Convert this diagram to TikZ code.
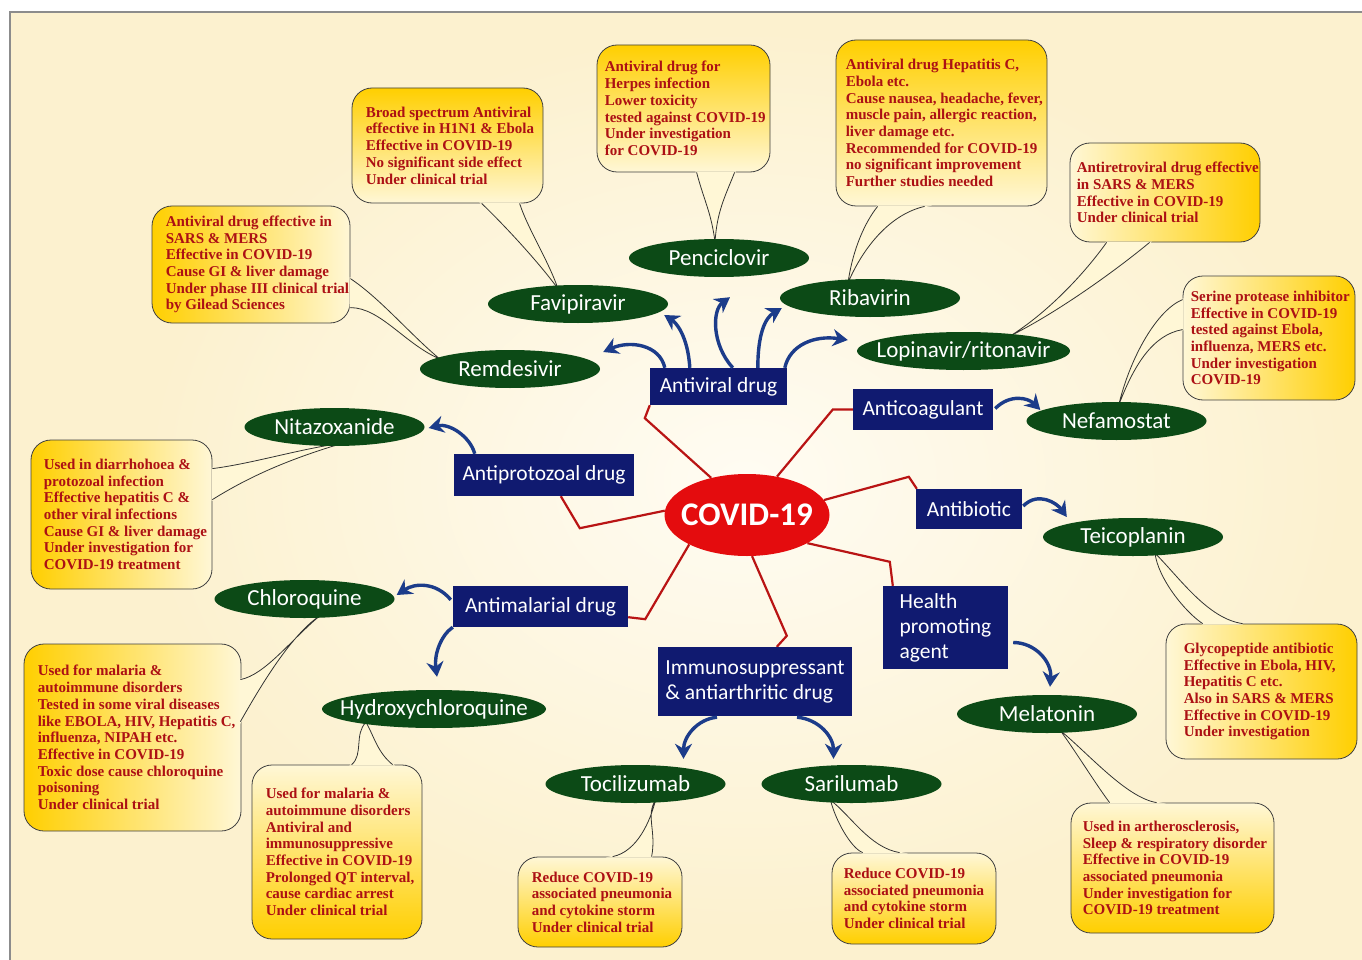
\documentclass[tikz,border=0pt]{standalone}
\usepackage{fontspec}
\newfontfamily\catfont{Carlito}
\newfontfamily\notefont{Liberation Serif}
\usetikzlibrary{shapes}
\usetikzlibrary{calc}
\usetikzlibrary{arrows.meta}
\definecolor{druggreen}{RGB}{12,74,22}
\definecolor{catblue}{RGB}{16,26,112}
\definecolor{virusred}{RGB}{228,12,14}
\definecolor{linkred}{RGB}{185,20,20}
\definecolor{arrowblue}{RGB}{28,60,138}
\definecolor{noteyellow}{RGB}{255,207,0}
\definecolor{notelight}{RGB}{255,247,214}
\definecolor{notered}{RGB}{172,16,20}
\definecolor{bgcream}{RGB}{252,241,207}
\definecolor{bglight}{RGB}{255,252,243}
\definecolor{framegray}{RGB}{140,140,140}
\pgfdeclarelayer{back}
\pgfdeclarelayer{notes}
\pgfsetlayers{back,notes,main}
\tikzset{
    virusoval/.style = {ellipse, fill=virusred, text=white, inner xsep=-15pt, inner ysep=0pt,
        minimum width=165pt, minimum height=82pt, font=\catfont\bfseries\fontsize{33pt}{36pt}\selectfont},
    catbox/.style = {rectangle, fill=catblue, text=white, align=left, inner sep=0pt,
        font=\catfont\fontsize{21.5pt}{25pt}\selectfont},
    drugoval/.style = {ellipse, fill=druggreen, text=white, inner xsep=-20pt, inner ysep=-2pt,
        minimum width=180pt, minimum height=38pt, font=\catfont\fontsize{23pt}{25pt}\selectfont},
    notebox/.style 2 args = {rectangle, rounded corners=20pt, draw=black!75, line width=0.8pt,
        minimum width=#1, minimum height=#2, inner sep=0pt},
    notetext/.style = {anchor=west, align=left, inner sep=0pt, text=notered,
        font=\notefont\bfseries\fontsize{15pt}{16.7pt}\selectfont},
    shadel/.style = {left color=noteyellow, right color=notelight}, % yellow on the left
    shader/.style = {left color=notelight, right color=noteyellow}, % yellow on the right
    shadet/.style = {top color=noteyellow, bottom color=notelight}, % yellow on top
    shadeb/.style = {top color=notelight, bottom color=noteyellow}, % yellow below
    tailfill/.style = {fill=notelight, draw=notelight, line width=1.8pt},
    tailline/.style = {draw=black!80, line width=0.8pt},
    redlink/.style = {draw=linkred, line width=2.2pt},
    bluearrow/.style = {-{Stealth[length=15pt,width=17pt]}, draw=arrowblue, line width=3.4pt}
}
% speech bubble tail: filled, then its two sides drawn
\newcommand{\calltail}[1]{\filldraw[tailfill] #1 -- cycle; \draw[tailline] #1;}

\begin{document}
\begin{tikzpicture}[x=1pt, y=-1pt]
\useasboundingbox (0,0) rectangle (1362,960);
%
\node[virusoval] at (747,515) (covid) {COVID-19};
%
\node[catbox, minimum width=137pt, minimum height=37pt] at (718.5,386.5) (av) {Antiviral drug};
\node[catbox, minimum width=140pt, minimum height=41pt] at (923,409.5) (acoag) {Anticoagulant};
\node[catbox, minimum width=180pt, minimum height=42pt] at (544,475) (aprot) {Antiprotozoal drug};
\node[catbox, minimum width=106pt, minimum height=40pt] at (969,509) (abio) {Antibiotic};
\node[catbox, minimum width=175pt, minimum height=41pt] at (540.5,606.5) (amal) {Antimalarial drug};
\node[catbox, minimum width=125pt, minimum height=83pt] at (945.5,627.5) (health) {Health\\promoting\\agent};
\node[catbox, minimum width=194pt, minimum height=69pt] at (755,681.5) (immu) {Immunosuppressant\\\& antiarthritic drug};
%
\node[drugoval] at (719,258) (penc) {Penciclovir};
\node[drugoval] at (578,304) (fav) {Favipiravir};
\node[drugoval] at (870,298) (riba) {Ribavirin};
\node[drugoval] at (510,369) (rem) {Remdesivir};
\node[drugoval, minimum width=213pt] at (963.5,351) (lopi) {Lopinavir/ritonavir};
\node[drugoval] at (334.5,427) (nita) {Nitazoxanide};
\node[drugoval] at (1116.5,421) (nefa) {Nefamostat};
\node[drugoval] at (1133,537) (teico) {Teicoplanin};
\node[drugoval] at (304.5,599) (chlq) {Chloroquine};
\node[drugoval, minimum width=224pt] at (434,709) (hcq) {Hydroxychloroquine};
\node[drugoval] at (1047,714) (mela) {Melatonin};
\node[drugoval] at (635.5,784) (toci) {Tocilizumab};
\node[drugoval] at (851.5,784) (sari) {Sarilumab};

\begin{pgfonlayer}{back}
\fill[white] (0,0) rectangle (1362,960);
\fill[bgcream] (10,12) rectangle (1362,960);
\shade[inner color=bglight, outer color=bgcream] (745,480) ellipse [x radius=600, y radius=450];
\draw[framegray, line width=1.5pt] (10,960) -- (10,12) -- (1362,12);
%
\draw[redlink] (covid.134) -- ($(av.south west)+(-5,13)$) -- (av.south west);
\draw[redlink] (covid.52) -- ($(acoag.west)+(-20,0)$) -- (acoag.west);
\draw[redlink] (covid.177) -- ($(aprot.south west)+(126,32)$) -- ($(aprot.south west)+(107,0)$);
\draw[redlink] (covid.11) -- ($(abio.north west)+(-7,-12)$) -- ($(abio.north west)+(1,0)$);
\draw[redlink] (covid.335) -- ($(health.north west)+(7,-24)$) -- ($(health.north west)+(10,0)$);
\draw[redlink] (covid.277) -- ($(immu.north west)+(129,-11)$) -- ($(immu.north west)+(119,0)$);
\draw[redlink] (covid.207) -- ($(amal.south east)+(17,-8)$) -- ($(amal.south east)+(0,-10)$);
\end{pgfonlayer}

\begin{pgfonlayer}{notes}
\node[notebox={191pt}{115pt}, shadet, label={[notetext, name=favtext, xshift=14pt]west:{Broad spectrum Antiviral\\effective in H1N1 \& Ebola\\Effective in COVID-19\\No significant side effect\\Under clinical trial}}] at (447.5,145.5) (favnote) {};
\node[notebox={173pt}{127pt}, shadet, label={[notetext, name=penctext, xshift=8pt]west:{Antiviral drug for\\Herpes infection\\Lower toxicity\\tested against COVID-19\\Under investigation\\for COVID-19}}] at (683.5,108.5) (pencnote) {};
\node[notebox={211pt}{166pt}, shadet, label={[notetext, name=ribatext, xshift=10pt]west:{Antiviral drug Hepatitis C,\\Ebola etc.\\Cause nausea, headache, fever,\\muscle pain, allergic reaction,\\liver damage etc.\\Recommended for COVID-19\\no significant improvement\\Further studies needed}}] at (941.5,123) (ribanote) {};
\node[notebox={190pt}{99pt}, shader, label={[notetext, name=lopitext, xshift=7pt]west:{Antiretroviral drug effective\\in SARS \& MERS\\Effective in COVID-19\\Under clinical trial}}] at (1165,192.5) (lopinote) {};
\node[notebox={172pt}{124pt}, shader, label={[notetext, name=nefatext, xshift=8pt]west:{Serine protease inhibitor\\Effective in COVID-19\\tested against Ebola,\\influenza, MERS etc.\\Under investigation\\COVID-19}}] at (1269,338) (nefanote) {};
\node[notebox={198pt}{117pt}, shadel, label={[notetext, name=remtext, xshift=14pt]west:{Antiviral drug effective in\\SARS \& MERS\\Effective in COVID-19\\Cause GI \& liver damage\\Under phase III clinical trial\\by Gilead Sciences}}] at (251,264.5) (remnote) {};
\node[notebox={181pt}{149pt}, shadel, label={[notetext, name=nitatext, xshift=13pt]west:{Used in diarrhohoea \&\\protozoal infection\\Effective hepatitis C \&\\other viral infections\\Cause GI \& liver damage\\Under investigation for\\COVID-19 treatment}}] at (121.5,514.5) (nitanote) {};
\node[notebox={217pt}{187pt}, shadel, label={[notetext, name=chlqtext, xshift=14pt]west:{Used for malaria \&\\autoimmune disorders\\Tested in some viral diseases\\like EBOLA, HIV, Hepatitis C,\\influenza, NIPAH etc.\\Effective in COVID-19\\Toxic dose cause chloroquine\\poisoning\\Under clinical trial}}] at (132.5,737.5) (chlqnote) {};
\node[notebox={170pt}{174pt}, shadeb, label={[notetext, name=hcqtext, xshift=14pt]west:{Used for malaria \&\\autoimmune disorders\\Antiviral and\\immunosuppressive\\Effective in COVID-19\\Prolonged QT interval,\\cause cardiac arrest\\Under clinical trial}}] at (337,852) (hcqnote) {};
\node[notebox={164pt}{90pt}, shadeb, label={[notetext, name=tocitext, xshift=14pt]west:{Reduce COVID-19\\associated pneumonia\\and cytokine storm\\Under clinical trial}}] at (600,902) (tocinote) {};
\node[notebox={164pt}{91pt}, shadeb, label={[notetext, name=saritext, xshift=12pt]west:{Reduce COVID-19\\associated pneumonia\\and cytokine storm\\Under clinical trial}}] at (914,898.5) (sarinote) {};
\node[notebox={203pt}{130pt}, shadeb, label={[notetext, name=melatext, xshift=12pt]west:{Used in artherosclerosis,\\Sleep \& respiratory disorder\\Effective in COVID-19\\associated pneumonia\\Under investigation for\\COVID-19 treatment}}] at (1172.5,868) (melanote) {};
\node[notebox={191pt}{135pt}, shader, label={[notetext, name=teicotext, xshift=18pt]west:{Glycopeptide antibiotic\\Effective in Ebola, HIV,\\Hepatitis C etc.\\Also in SARS \& MERS\\Effective in COVID-19\\Under investigation}}] at (1261.5,691.5) (teiconote) {};
%
\calltail{($(favnote.south west)+(130,0)$) .. controls +(23,22) and +(-18,-25) .. ($(fav.north)+(-20,4)$) .. controls +(-10,-29) and +(8,25) .. ($(favnote.south west)+(168,0)$)}
\calltail{($(pencnote.south west)+(100,0)$) .. controls +(8,30) and +(-4,-30) .. ($(penc.north)+(-4,3)$) .. controls +(2,-30) and +(-10,25) .. ($(pencnote.south west)+(138,0)$)}
\calltail{($(ribanote.south west)+(42,0)$) .. controls +(-12,15) and +(5,-35) .. ($(riba.north)+(-22,4)$) .. controls +(15,-35) and +(-35,8) .. ($(ribanote.south west)+(89,0)$)}
\calltail{($(lopinote.south west)+(37,0)$) .. controls +(-25,35) and +(35,-22) .. ($(lopi.north)+(47,4)$) .. controls +(50,-25) and +(-30,25) .. ($(lopinote.south west)+(80,0)$)}
\calltail{($(nefanote.north west)+(0,24)$) .. controls +(-25,10) and +(12,-50) .. ($(nefa.north)+(2,4)$) .. controls +(15,-40) and +(-30,5) .. ($(nefanote.north west)+(0,54)$)}
\calltail{($(remnote.north east)+(0,73)$) .. controls +(30,20) and +(-30,-25) .. ($(rem.west)+(20,-10)$) .. controls +(-35,-15) and +(30,0) .. ($(remnote.north east)+(0,102)$)}
\calltail{($(nitanote.north east)+(0,29)$) .. controls +(40,-5) and +(-40,5) .. ($(nita.south)+(8,-3)$) .. controls +(-50,15) and +(40,-25) .. ($(nitanote.north east)+(0,60)$)}
\calltail{($(chlqnote.north east)+(-1,36)$) .. controls +(25,-5) and +(-30,25) .. ($(chlq.south)+(16,-3)$) .. controls +(-30,20) and +(20,-35) .. ($(chlqnote.north east)+(-1,78)$)}
\calltail{($(hcqnote.north west)+(100,0)$) .. controls +(12,-10) and +(-12,12) .. ($(hcq.south)+(-68,-6)$) .. controls +(8,14) and +(-15,-12) .. ($(hcqnote.north west)+(141,0)$)}
\calltail{($(tocinote.north west)+(95,0)$) .. controls +(25,-5) and +(-5,20) .. ($(toci.south)+(20,-3)$) .. controls +(-10,15) and +(5,-25) .. ($(tocinote.north west)+(134,0)$)}
\calltail{($(sarinote.north west)+(31,0)$) .. controls +(-12,-5) and +(5,20) .. ($(sari.south)+(-21,-3)$) .. controls +(20,15) and +(-30,-5) .. ($(sarinote.north west)+(68,0)$)}
\calltail{($(melanote.north west)+(39,0)$) .. controls +(-15,-20) and +(15,20) .. ($(mela.south)+(13,-3)$) .. controls +(30,25) and +(-30,-5) .. ($(melanote.north west)+(86,0)$)}
\calltail{($(teiconote.north west)+(37,0)$) .. controls +(-18,-12) and +(3,25) .. ($(teico.south)+(22,-3)$) .. controls +(25,25) and +(-35,-5) .. ($(teiconote.north west)+(77,0)$)}
\end{pgfonlayer}
%
\draw[bluearrow] ($(av.north west)+(15,0)$) .. controls +(-5,-23) and +(27,-12) .. ($(rem.east)+(3,-17)$);
\draw[bluearrow] ($(av.north west)+(40,0)$) .. controls +(-2,-33) and +(11,7) .. ($(fav.east)+(-4,11)$);
\draw[bluearrow] ($(av.north west)+(83,0)$) .. controls +(-21,-23) and +(-18,13) .. ($(penc.south)+(11,20)$);
\draw[bluearrow] ($(av.north west)+(108,0)$) .. controls +(0,-33) and +(-17,10) .. ($(riba.west)+(2,10)$);
\draw[bluearrow] ($(av.north west)+(135,0)$) .. controls +(5,-23) and +(-33,-5) .. ($(lopi.west)+(-9,-11)$);
\draw[bluearrow] ($(aprot.north west)+(21,0)$) .. controls +(-5,-18) and +(20,-5) .. ($(nita.east)+(4,1)$);
\draw[bluearrow] ($(amal.north west)+(-2,14)$) .. controls +(-15,-18) and +(18,-12) .. ($(chlq.east)+(2,-4)$);
\draw[bluearrow] (amal.south west) .. controls +(-12,8) and +(-3,-22) .. ($(hcq.north)+(3,-13)$);
\draw[bluearrow] ($(acoag.east)+(2,-1)$) .. controls +(15,-15) and +(-12,-12) .. ($(nefa.west)+(14,-11)$);
\draw[bluearrow] ($(abio.east)+(1,-3)$) .. controls +(15,-15) and +(-10,-14) .. ($(teico.west)+(24,-20)$);
\draw[bluearrow] ($(health.east)+(5,15)$) .. controls +(22,0) and +(2,-25) .. ($(mela.north)+(3,-8)$);
\draw[bluearrow] ($(immu.south)+(-38,1)$) .. controls +(-20,2) and +(0,-22) .. ($(toci.north)+(48,-6)$);
\draw[bluearrow] ($(immu.south)+(42,1)$) .. controls +(22,2) and +(0,-22) .. ($(sari.north)+(-18,-6)$);

\end{tikzpicture}
\end{document}
